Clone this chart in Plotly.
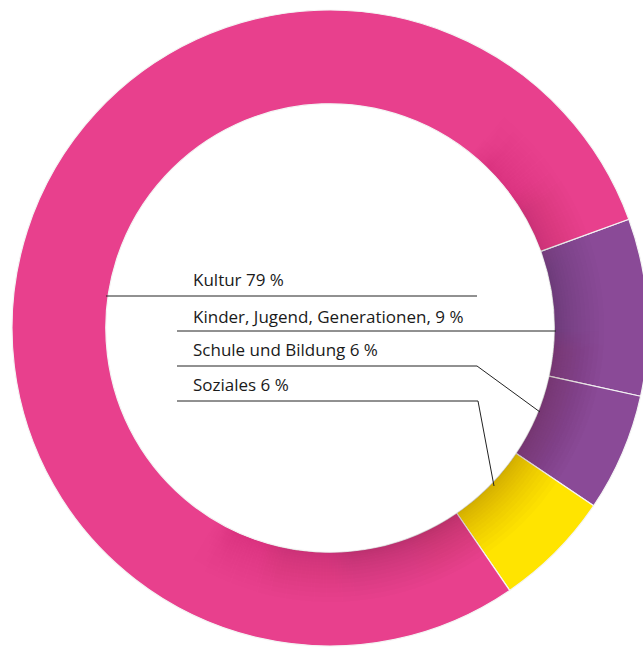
import math
import plotly.graph_objects as go

# Förderbereiche (Anteile in %)
labels = ["Kinder, Jugend, Generationen", "Schule und Bildung", "Soziales", "Kultur"]
values = [9, 6, 6, 79]
colors = ["#8a4a97", "#8a4a97", "#ffe400", "#e8408d"]

# legend texts, top to bottom
legend_texts = ["Kultur 79 %", "Kinder, Jugend, Generationen, 9 %",
                "Schule und Bildung 6 %", "Soziales 6 %"]

W, H = 660, 647             # a bit wider than the window: ring is cut on the right
cx, cy, r = 330, 328, 318   # px, centre + outer radius
HOLE = 0.705
r_in = r * HOLE

def px_x(x):
    return x / W

def px_y(y):
    return 1 - y / H

def dom(radius):
    return dict(x=[px_x(cx - radius), px_x(cx + radius)],
                y=[px_y(cy + radius), px_y(cy - radius)])

fig = go.Figure()
fig.add_trace(go.Pie(
    labels=labels, values=values, sort=False, direction="clockwise",
    rotation=70, hole=HOLE, textinfo="none", hoverinfo="label+percent",
    marker=dict(colors=colors, line=dict(color="#f4f4f4", width=1.2)),
    domain=dom(r), showlegend=False,
))

# soft inner shadow on the lower right part of the ring (just styling);
# seams of each band are shifted so they don't line up
n_bands, depth, n_seg = 16, 50, 60
step = 360 / n_seg
a_max = 0.26
for k in range(n_bands):
    ro = r_in + depth * ((k + 1) / n_bands) ** 1.6
    rot = 90 + step * ((k * 7) % n_bands) / n_bands
    cols = []
    for i in range(n_seg):
        ang = -(rot - 90) - (i + 0.5) * step    # degrees, 0 = 3 o'clock
        s = max(0.0, math.cos(math.radians(ang + 35)))
        cols.append(f"rgba(40,0,30,{a_max * s / n_bands:.4f})")
    fig.add_trace(go.Pie(
        values=[1] * n_seg, sort=False, direction="clockwise", rotation=rot,
        hole=r_in / ro, textinfo="none", hoverinfo="skip",
        marker=dict(colors=cols, line=dict(width=0)),
        domain=dom(ro), showlegend=False,
    ))

# text labels
text_y = [279, 316, 349, 384]
for t, y in zip(legend_texts, text_y):
    fig.add_annotation(x=px_x(191), y=px_y(y), xref="paper", yref="paper",
                       text=t, showarrow=False, xanchor="left", yanchor="middle",
                       font=dict(family="Open Sans", size=17, color="#1a1a1a"))

# leader lines
leaders = [
    [(106, 296), (477, 296)],
    [(177, 331), (556, 331)],
    [(177, 366), (477, 366), (540, 412)],
    [(177, 401), (478, 401), (494, 486)],
]
for pts in leaders:
    path = "M " + " L ".join(f"{px_x(x)},{px_y(y)}" for x, y in pts)
    fig.add_shape(type="path", path=path, xref="paper", yref="paper",
                  line=dict(color="#222222", width=1))

fig.update_layout(width=W, height=H, margin=dict(l=0, r=0, t=0, b=0),
                  paper_bgcolor="white", plot_bgcolor="white")
fig.write_html("out.html", config={"displayModeBar": False},
               post_script="document.body.style.margin='0';"
                           "document.documentElement.style.overflow='hidden';"
                           "document.body.style.overflow='hidden';")
